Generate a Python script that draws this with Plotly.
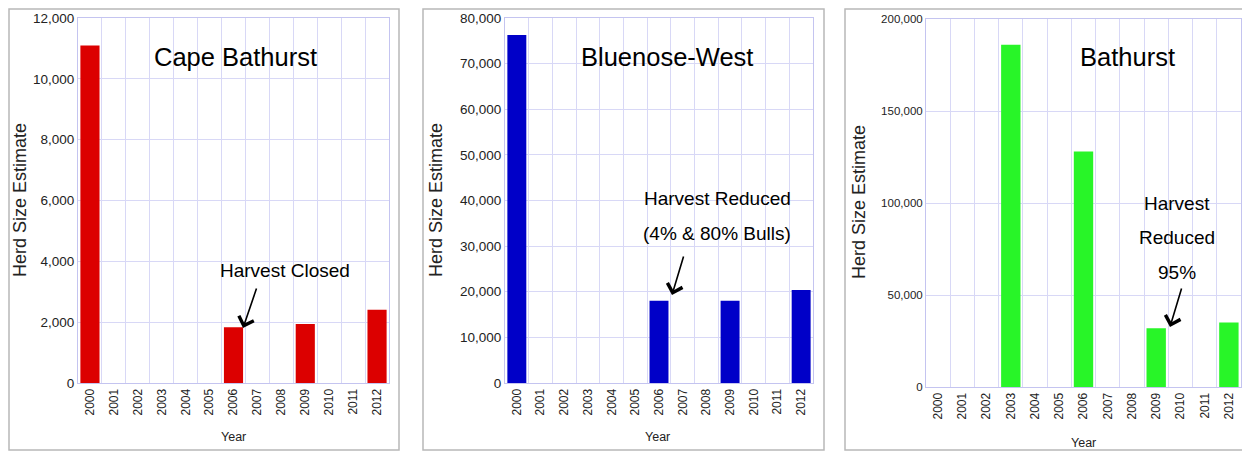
import plotly.graph_objects as go

# ---------------- data ----------------
years = ["2000", "2001", "2002", "2003", "2004", "2005", "2006",
         "2007", "2008", "2009", "2010", "2011", "2012"]
cape_bathurst = [11100, None, None, None, None, None, 1830, None, None, 1940, None, None, 2410]
bluenose_west = [76300, None, None, None, None, None, 18050, None, None, 18050, None, None, 20400]
bathurst = [None, None, None, 186000, None, None, 128000, None, None, 31900, None, None, 35000]

titles = ["Cape Bathurst", "Bluenose-West", "Bathurst"]
notes = [["Harvest Closed"],
         ["Harvest Reduced", "(4% & 80% Bulls)"],
         ["Harvest", "Reduced", "95%"]]
y_label = "Herd Size Estimate"
x_label = "Year"

# ---------------- layout helpers ----------------
# the page body has an 8px margin, so the figure starts at (8, 8) in the window
OFF = 8
W, H = 1242, 443
def px(x):
    return (x - OFF) / W
def py(y):
    return 1 - (y - OFF) / H

NARROW = "Liberation Sans Narrow, Arial Narrow, Liberation Sans, Arial, sans-serif"
SANS = "Liberation Sans, Arial, sans-serif"
GRID = "#d8d8f6"
AXLINE = "#c4c4f0"

panels = [
    dict(data=cape_bathurst, color="#DC0000", xr=(78, 389), yr=(383, 18), rng=[0, 12000], dtick=2000, tfs=13.5,
         title_xy=(235, 57), note_x=285, note_y=[270], arrow=((243, 328), (14, -41)),
         ytitle_xy=(20, 200), xtitle_xy=(233, 437), box=(9, 399, 9, 450)),
    dict(data=bluenose_west, color="#0000C8", xr=(505, 813), yr=(383, 18), rng=[0, 80000], dtick=10000, tfs=13.5,
         title_xy=(667, 57), note_x=717, note_y=[198, 233], arrow=((672, 295), (12, -40)),
         ytitle_xy=(436, 200), xtitle_xy=(657, 437), box=(423, 824, 9, 450)),
    dict(data=bathurst, color="#28F528", xr=(926, 1241), yr=(387, 19), rng=[0, 200000], dtick=50000, tfs=11.5,
         title_xy=(1127, 57), note_x=1177, note_y=[203, 237, 272], arrow=((1170, 327), (12, -40)),
         ytitle_xy=(859, 202), xtitle_xy=(1083, 443), box=(845, 1260, 9, 450)),
]

fig = go.Figure()
annotations = []
shapes = []

for i, p in enumerate(panels):
    n = "" if i == 0 else str(i + 1)
    fig.add_trace(go.Bar(
        x=years, y=p["data"], marker=dict(color=p["color"], line=dict(width=0)),
        xaxis="x" + n, yaxis="y" + n, showlegend=False, hoverinfo="x+y"))

    fig.update_layout(**{
        "xaxis" + n: dict(
            domain=[px(p["xr"][0]), px(p["xr"][1])], anchor="y" + n, type="category",
            categoryorder="array", categoryarray=years, automargin=False,
            tickangle=-90, tickfont=dict(family=SANS, size=12, color="#222"),
            showgrid=True, gridcolor=GRID, gridwidth=1, tickson="boundaries", ticks="",
            showline=True, linecolor=AXLINE, linewidth=1, mirror=True, zeroline=False,
            fixedrange=True),
        "yaxis" + n: dict(
            domain=[py(p["yr"][0]), py(p["yr"][1])], anchor="x" + n, automargin=False,
            range=p["rng"], dtick=p["dtick"], tickformat=",d",
            tickfont=dict(family=SANS, size=p["tfs"], color="#222"),
            showgrid=True, gridcolor=GRID, gridwidth=1, ticks="",
            showline=True, linecolor=AXLINE, linewidth=1, mirror=True, zeroline=False,
            fixedrange=True),
    })

    # panel title
    annotations.append(dict(text=titles[i], x=px(p["title_xy"][0]), y=py(p["title_xy"][1]),
                            xref="paper", yref="paper", showarrow=False,
                            font=dict(family=NARROW, size=25.5, color="#000"),
                            xanchor="center", yanchor="middle"))
    # note text lines
    for line, ly in zip(notes[i], p["note_y"]):
        annotations.append(dict(text=line, x=px(p["note_x"]), y=py(ly),
                                xref="paper", yref="paper", showarrow=False,
                                font=dict(family=NARROW, size=19, color="#000"),
                                xanchor="center", yanchor="middle"))
    # arrow
    (hx, hy), (ax, ay) = p["arrow"]
    annotations.append(dict(text="", x=px(hx), y=py(hy), xref="paper", yref="paper",
                            showarrow=True, ax=ax, ay=ay, arrowhead=4, arrowsize=1.9,
                            arrowwidth=1.6, arrowcolor="#000", standoff=0, startstandoff=0))
    # axis titles
    annotations.append(dict(text=y_label, x=px(p["ytitle_xy"][0]), y=py(p["ytitle_xy"][1]),
                            xref="paper", yref="paper", showarrow=False, textangle=-90,
                            font=dict(family=SANS, size=18, color="#222"),
                            xanchor="center", yanchor="middle"))
    annotations.append(dict(text=x_label, x=px(p["xtitle_xy"][0]), y=py(p["xtitle_xy"][1]),
                            xref="paper", yref="paper", showarrow=False,
                            font=dict(family=SANS, size=12.5, color="#222"),
                            xanchor="center", yanchor="middle"))
    # panel border
    bx0, bx1, by0, by1 = p["box"]
    shapes.append(dict(type="rect", xref="paper", yref="paper",
                       x0=px(bx0), x1=px(bx1), y0=py(by1), y1=py(by0),
                       line=dict(color="#b8b8b8", width=1.5), fillcolor="rgba(0,0,0,0)", layer="below"))

fig.update_layout(
    width=W, height=H, margin=dict(l=0, r=0, t=0, b=0),
    paper_bgcolor="white", plot_bgcolor="white",
    bargap=0.2, showlegend=False,
    annotations=annotations, shapes=shapes,
)

fig.write_html("out.html")
